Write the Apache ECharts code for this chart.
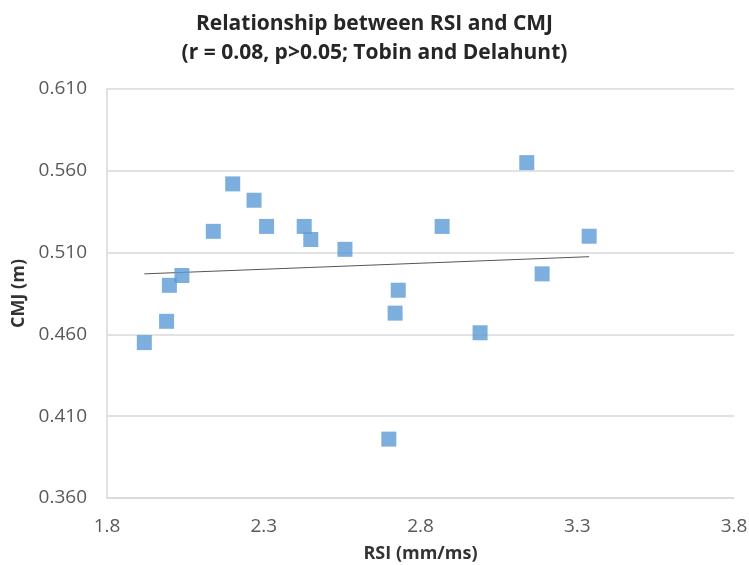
<!DOCTYPE html>
<html>
<head>
<meta charset="utf-8">
<script src="https://cdn.jsdelivr.net/npm/echarts@6/dist/echarts.min.js"></script>
<style>html,body{margin:0;padding:0;background:#fff}#c{width:749px;height:565px}</style>
</head>
<body>
<div id="c"></div>
<script>
var rsi = [1.919, 1.990, 1.999, 2.039, 2.139, 2.201, 2.269, 2.309, 2.429, 2.450, 2.559, 2.729, 2.719, 3.139, 2.869, 3.338, 3.188, 2.990, 2.699];
var cmj = [0.455, 0.468, 0.490, 0.496, 0.523, 0.552, 0.542, 0.526, 0.526, 0.518, 0.512, 0.487, 0.473, 0.565, 0.526, 0.520, 0.497, 0.461, 0.396];
var trendX = [1.919, 3.338];
var trendY = [0.497, 0.5075];
var xTicks = [1.8, 2.3, 2.8, 3.3, 3.8];
var yTicks = [0.360, 0.410, 0.460, 0.510, 0.560, 0.610];

var pts = rsi.map(function (x, i) { return [x, cmj[i]]; });
var trend = trendX.map(function (x, i) { return [x, trendY[i]]; });

var chart = echarts.init(document.getElementById('c'));
var font = '"Open Sans", "Liberation Sans", sans-serif';
chart.setOption({
  animation: false,
  title: {
    text: 'Relationship between RSI and CMJ\n(r = 0.08, p>0.05; Tobin and Delahunt)',
    left: 'center', top: 5,
    textStyle: { fontFamily: font, fontSize: 21, fontWeight: 'bold', color: '#262626', lineHeight: 29 }
  },
  grid: { left: 107, right: 15, top: 89, bottom: 67, containLabel: false, outerBoundsMode: 'none' },
  xAxis: {
    type: 'value', min: xTicks[0], max: xTicks[xTicks.length - 1], interval: 0.5,
    name: 'RSI (mm/ms)', nameLocation: 'middle', nameGap: 47,
    nameTextStyle: { fontFamily: font, fontSize: 18, fontWeight: 'bold', color: '#333' },
    axisLine: { show: true, lineStyle: { color: '#d9d9d9', width: 1.5 } },
    axisTick: { show: false },
    splitLine: { show: false },
    axisLabel: { fontFamily: font, fontSize: 19, color: '#595959', margin: 19,
      formatter: function (v) { return v.toFixed(1); } }
  },
  yAxis: {
    type: 'value', min: yTicks[0], max: yTicks[yTicks.length - 1], interval: 0.05,
    name: 'CMJ (m)', nameLocation: 'middle', nameGap: 76, nameRotate: 90,
    nameTextStyle: { fontFamily: font, fontSize: 18, fontWeight: 'bold', color: '#333' },
    axisLine: { show: true, lineStyle: { color: '#d9d9d9', width: 1.5 } },
    axisTick: { show: false },
    splitLine: { show: true, lineStyle: { color: '#d9d9d9', width: 1.5 } },
    axisLabel: { fontFamily: font, fontSize: 19, color: '#595959', margin: 20,
      formatter: function (v) { return v.toFixed(3); } }
  },
  series: [
    {
      type: 'line', data: trend, symbol: 'none', silent: true,
      lineStyle: { color: '#555', width: 1 }, z: 3
    },
    {
      type: 'scatter', data: pts, symbol: 'rect', symbolSize: 15,
      itemStyle: { color: '#5B9BD5' }, z: 4
    }
  ]
});
</script>
</body>
</html>
